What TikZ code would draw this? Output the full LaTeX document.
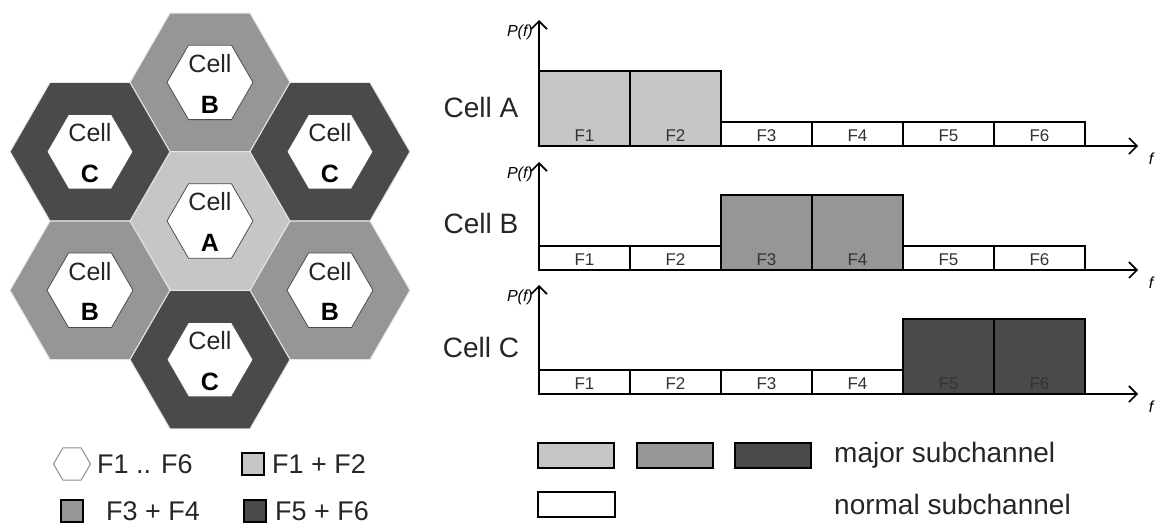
\documentclass[tikz,border=0pt]{standalone}
\usepackage{fontspec}
\setmainfont{Liberation Sans}
\usetikzlibrary{shapes.geometric,arrows.meta}
\definecolor{light-gray}{RGB}{198,198,198}
\definecolor{mid-gray}{RGB}{150,150,150}
\definecolor{dark-gray}{RGB}{74,74,74}

\begin{document}
\begin{tikzpicture}
[
  x=1pt,y=-1pt,
  outerhex/.style={regular polygon,regular polygon sides=6,minimum size=160pt,inner sep=0pt,draw=white!80!gray,line width=1pt},
  innerhex/.style={regular polygon,regular polygon sides=6,minimum size=86pt,inner sep=0pt,fill=white,draw=black!70,line width=0.8pt},
  celltext/.style={font=\fontsize{25}{28}\selectfont,text=black!85},
  cellletter/.style={font=\fontsize{25}{28}\selectfont\bfseries},
  box/.style={draw=black,line width=1.8pt},
  flabel/.style={font=\fontsize{17}{18}\selectfont,text=black!80,inner sep=0pt},
  plabel/.style={font=\fontsize{16}{17}\selectfont\itshape,inner sep=0pt},
  rowlabel/.style={font=\fontsize{28}{30}\selectfont,text=black!85},
  axis/.style={line width=1.8pt,-{Straight Barb[length=8pt,width=16pt,line width=1.6pt]}},
  keysq/.style={rectangle,draw=black,line width=1.8pt,minimum size=22pt,inner sep=0pt},
  legtext/.style={font=\fontsize{27}{30}\selectfont,text=black!85,inner sep=0pt,anchor=west},
]
\useasboundingbox (0,0) rectangle (1159,527);

\foreach \cx/\cy/\col/\lab [count=\n] in {210/221/light-gray/A, 210/82.4/mid-gray/B,
    90/151.7/dark-gray/C, 330/151.7/dark-gray/C, 90/290.3/mid-gray/B,
    330/290.3/mid-gray/B, 210/359.6/dark-gray/C}{
  \node[outerhex,fill=\col] (hex\n) at (\cx,\cy){};
  \node[innerhex] (core\n) at (\cx,\cy){};
  \node[celltext] (cell\n) at (\cx,\cy-19){Cell};
  \node[cellletter] (letter\n) at (\cx,\cy+22){\lab};
}

\foreach \name/\base/\top/\ly/\mi/\mj/\col in {A/146/20/107/1/2/light-gray,
    B/270/162/223/3/4/mid-gray, C/394/285/347/5/6/dark-gray}{
  \coordinate (o\name) at (539,\base);
  \coordinate (py\name) at (539,\top);
  \coordinate (px\name) at (1138,\base);
  \foreach \i in {1,...,6}
    \draw[box,fill=white] (448+91*\i,\base) rectangle ++(91,-24);
  \foreach \i in {\mi,\mj}
    \draw[box,fill=\col] (448+91*\i,\base) rectangle ++(91,-75);
  \foreach \i in {1,...,6}
    \node[flabel] (f\name\i) at (493.5+91*\i,\base-10){F\i};
  \draw[axis] (o\name) -- (py\name);
  \draw[axis] (o\name) -- (px\name);
  \node[plabel,anchor=east] (pf\name) at (533,\top+12){P(f)};
  \node[plabel] (fx\name) at (1151,\base+13){f};
  \node[rowlabel] (row\name) at (481,\ly){Cell \name};
}

\node[regular polygon,regular polygon sides=6,minimum size=37pt,inner sep=0pt,draw=black!45,line width=1pt] (keyhex) at (72,464){};
\node[legtext] (keyhextext) at (97,464){F1 .. F6};
\node[keysq,fill=light-gray] (keyA) at (253,464){};
\node[legtext] (keyAtext) at (272,464){F1 + F2};
\node[keysq,fill=mid-gray] (keyB) at (72,511){};
\node[legtext] (keyBtext) at (106,511){F3 + F4};
\node[keysq,fill=dark-gray] (keyC) at (255,511){};
\node[legtext] (keyCtext) at (275,511){F5 + F6};

\foreach \x/\col in {538/light-gray,637/mid-gray,735/dark-gray}
  \draw[box,fill=\col] (\x,443) rectangle ++(76,25);
\draw[box,fill=white] (538,492) rectangle ++(77,25);
\node[legtext,font=\fontsize{28}{30}\selectfont] (major) at (834,455){major subchannel};
\node[legtext,font=\fontsize{28}{30}\selectfont] (normal) at (834,504){normal subchannel};
\end{tikzpicture}
\end{document}
